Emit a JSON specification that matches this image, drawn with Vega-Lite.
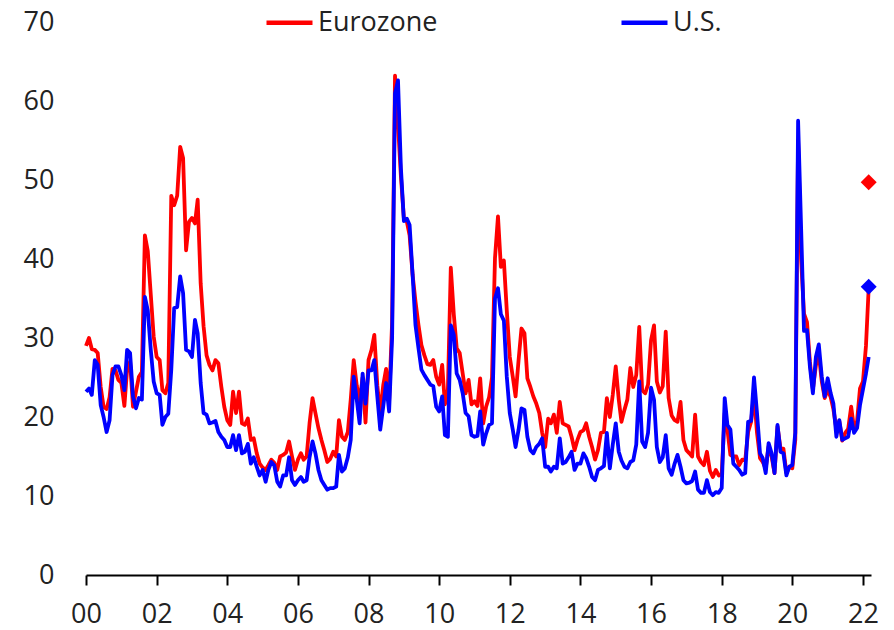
{
"$schema":"https://vega.github.io/schema/vega-lite/v6.json",
"width":785,"height":553,
"autosize":{"type":"none"},
"padding":{"left":86,"top":22,"right":23,"bottom":55},
"config":{"view":{"stroke":null},"font":"Open Sans",
 "axis":{"labelFont":"Open Sans","labelFontSize":27,"labelColor":"#222222","grid":false,"title":null},
 "legend":{"labelFont":"Open Sans","labelFontSize":27,"labelColor":"#222222"}},
"layer":[
{"data":{"values":[
{"d":"2000-01","Eurozone":29.0,"US":23.2},{"d":"2000-02","Eurozone":30.0,"US":23.6},{"d":"2000-03","Eurozone":28.6,"US":22.8},{"d":"2000-04","Eurozone":28.5,"US":27.2},{"d":"2000-05","Eurozone":28.1,"US":26.6},{"d":"2000-06","Eurozone":23.8,"US":21.5},{"d":"2000-07","Eurozone":21.3,"US":20.0},{"d":"2000-08","Eurozone":21.0,"US":18.1},{"d":"2000-09","Eurozone":22.5,"US":19.6},{"d":"2000-10","Eurozone":26.1,"US":25.3},{"d":"2000-11","Eurozone":25.9,"US":26.4},{"d":"2000-12","Eurozone":24.7,"US":26.4},
{"d":"2001-01","Eurozone":24.3,"US":25.3},{"d":"2001-02","Eurozone":21.4,"US":23.4},{"d":"2001-03","Eurozone":26.0,"US":28.5},{"d":"2001-04","Eurozone":27.0,"US":28.1},{"d":"2001-05","Eurozone":21.3,"US":22.6},{"d":"2001-06","Eurozone":23.2,"US":21.1},{"d":"2001-07","Eurozone":25.1,"US":22.4},{"d":"2001-08","Eurozone":25.7,"US":22.2},{"d":"2001-09","Eurozone":43.0,"US":35.2},{"d":"2001-10","Eurozone":41.0,"US":33.5},{"d":"2001-11","Eurozone":35.5,"US":28.5},{"d":"2001-12","Eurozone":30.2,"US":24.5},
{"d":"2002-01","Eurozone":27.6,"US":23.0},{"d":"2002-02","Eurozone":27.2,"US":22.8},{"d":"2002-03","Eurozone":23.4,"US":19.0},{"d":"2002-04","Eurozone":23.0,"US":20.0},{"d":"2002-05","Eurozone":24.3,"US":20.4},{"d":"2002-06","Eurozone":48.0,"US":26.0},{"d":"2002-07","Eurozone":46.8,"US":33.8},{"d":"2002-08","Eurozone":48.0,"US":33.9},{"d":"2002-09","Eurozone":54.2,"US":37.8},{"d":"2002-10","Eurozone":52.8,"US":35.7},{"d":"2002-11","Eurozone":41.1,"US":28.5},{"d":"2002-12","Eurozone":44.7,"US":28.3},
{"d":"2003-01","Eurozone":45.2,"US":27.6},{"d":"2003-02","Eurozone":44.5,"US":32.3},{"d":"2003-03","Eurozone":47.5,"US":30.6},{"d":"2003-04","Eurozone":36.9,"US":24.3},{"d":"2003-05","Eurozone":31.5,"US":20.5},{"d":"2003-06","Eurozone":27.8,"US":20.3},{"d":"2003-07","Eurozone":26.6,"US":19.2},{"d":"2003-08","Eurozone":25.9,"US":19.3},{"d":"2003-09","Eurozone":27.2,"US":19.5},{"d":"2003-10","Eurozone":26.8,"US":18.1},{"d":"2003-11","Eurozone":23.8,"US":17.5},{"d":"2003-12","Eurozone":21.3,"US":17.1},
{"d":"2004-01","Eurozone":19.6,"US":16.2},{"d":"2004-02","Eurozone":19.0,"US":16.2},{"d":"2004-03","Eurozone":23.2,"US":17.7},{"d":"2004-04","Eurozone":20.5,"US":15.8},{"d":"2004-05","Eurozone":23.2,"US":17.7},{"d":"2004-06","Eurozone":19.2,"US":15.4},{"d":"2004-07","Eurozone":19.0,"US":15.6},{"d":"2004-08","Eurozone":19.8,"US":16.6},{"d":"2004-09","Eurozone":17.1,"US":14.1},{"d":"2004-10","Eurozone":17.3,"US":14.9},{"d":"2004-11","Eurozone":15.4,"US":13.7},{"d":"2004-12","Eurozone":14.1,"US":12.6},
{"d":"2005-01","Eurozone":13.6,"US":13.3},{"d":"2005-02","Eurozone":13.3,"US":11.8},{"d":"2005-03","Eurozone":13.9,"US":13.3},{"d":"2005-04","Eurozone":14.6,"US":14.3},{"d":"2005-05","Eurozone":14.2,"US":13.9},{"d":"2005-06","Eurozone":13.3,"US":11.8},{"d":"2005-07","Eurozone":15.0,"US":11.2},{"d":"2005-08","Eurozone":15.2,"US":12.6},{"d":"2005-09","Eurozone":15.5,"US":12.6},{"d":"2005-10","Eurozone":16.9,"US":14.9},{"d":"2005-11","Eurozone":15.0,"US":12.0},{"d":"2005-12","Eurozone":13.3,"US":11.4},
{"d":"2006-01","Eurozone":14.6,"US":12.0},{"d":"2006-02","Eurozone":15.4,"US":12.4},{"d":"2006-03","Eurozone":14.6,"US":11.8},{"d":"2006-04","Eurozone":15.0,"US":12.0},{"d":"2006-05","Eurozone":19.2,"US":14.9},{"d":"2006-06","Eurozone":22.4,"US":16.9},{"d":"2006-07","Eurozone":20.5,"US":15.4},{"d":"2006-08","Eurozone":18.6,"US":13.3},{"d":"2006-09","Eurozone":17.1,"US":12.0},{"d":"2006-10","Eurozone":15.8,"US":11.4},{"d":"2006-11","Eurozone":14.3,"US":10.8},{"d":"2006-12","Eurozone":14.7,"US":11.0},
{"d":"2007-01","Eurozone":15.6,"US":11.0},{"d":"2007-02","Eurozone":15.0,"US":11.2},{"d":"2007-03","Eurozone":19.6,"US":15.2},{"d":"2007-04","Eurozone":17.5,"US":13.1},{"d":"2007-05","Eurozone":17.1,"US":13.5},{"d":"2007-06","Eurozone":18.1,"US":14.9},{"d":"2007-07","Eurozone":22.2,"US":17.1},{"d":"2007-08","Eurozone":27.2,"US":25.1},{"d":"2007-09","Eurozone":24.0,"US":22.2},{"d":"2007-10","Eurozone":22.0,"US":19.2},{"d":"2007-11","Eurozone":25.0,"US":25.5},{"d":"2007-12","Eurozone":19.3,"US":21.7},
{"d":"2008-01","Eurozone":27.2,"US":25.9},{"d":"2008-02","Eurozone":28.5,"US":25.9},{"d":"2008-03","Eurozone":30.4,"US":27.2},{"d":"2008-04","Eurozone":24.0,"US":22.6},{"d":"2008-05","Eurozone":20.5,"US":18.4},{"d":"2008-06","Eurozone":24.0,"US":21.3},{"d":"2008-07","Eurozone":26.1,"US":24.3},{"d":"2008-08","Eurozone":22.0,"US":20.7},{"d":"2008-09","Eurozone":32.0,"US":30.0},{"d":"2008-10","Eurozone":63.2,"US":61.0},{"d":"2008-11","Eurozone":57.0,"US":62.6},{"d":"2008-12","Eurozone":50.5,"US":51.5},
{"d":"2009-01","Eurozone":45.1,"US":44.8},{"d":"2009-02","Eurozone":44.7,"US":45.1},{"d":"2009-03","Eurozone":43.0,"US":44.3},{"d":"2009-04","Eurozone":38.0,"US":38.0},{"d":"2009-05","Eurozone":34.6,"US":31.6},{"d":"2009-06","Eurozone":31.6,"US":28.7},{"d":"2009-07","Eurozone":29.1,"US":26.0},{"d":"2009-08","Eurozone":27.8,"US":25.3},{"d":"2009-09","Eurozone":26.7,"US":24.7},{"d":"2009-10","Eurozone":26.6,"US":24.1},{"d":"2009-11","Eurozone":27.2,"US":23.9},{"d":"2009-12","Eurozone":25.1,"US":21.3},
{"d":"2010-01","Eurozone":24.1,"US":20.7},{"d":"2010-02","Eurozone":26.6,"US":22.6},{"d":"2010-03","Eurozone":21.6,"US":17.7},{"d":"2010-04","Eurozone":23.5,"US":17.5},{"d":"2010-05","Eurozone":38.9,"US":31.6},{"d":"2010-06","Eurozone":33.0,"US":30.4},{"d":"2010-07","Eurozone":28.7,"US":25.5},{"d":"2010-08","Eurozone":28.1,"US":24.7},{"d":"2010-09","Eurozone":25.5,"US":23.0},{"d":"2010-10","Eurozone":23.0,"US":20.5},{"d":"2010-11","Eurozone":24.7,"US":20.1},{"d":"2010-12","Eurozone":21.6,"US":17.7},
{"d":"2011-01","Eurozone":22.0,"US":17.5},{"d":"2011-02","Eurozone":21.4,"US":17.6},{"d":"2011-03","Eurozone":24.9,"US":20.7},{"d":"2011-04","Eurozone":19.2,"US":16.5},{"d":"2011-05","Eurozone":21.3,"US":17.9},{"d":"2011-06","Eurozone":22.5,"US":19.0},{"d":"2011-07","Eurozone":25.0,"US":19.2},{"d":"2011-08","Eurozone":40.1,"US":35.0},{"d":"2011-09","Eurozone":45.4,"US":36.3},{"d":"2011-10","Eurozone":39.0,"US":33.0},{"d":"2011-11","Eurozone":39.8,"US":32.2},{"d":"2011-12","Eurozone":33.5,"US":25.1},
{"d":"2012-01","Eurozone":27.6,"US":20.5},{"d":"2012-02","Eurozone":25.1,"US":18.4},{"d":"2012-03","Eurozone":22.6,"US":16.2},{"d":"2012-04","Eurozone":27.2,"US":18.4},{"d":"2012-05","Eurozone":31.2,"US":21.1},{"d":"2012-06","Eurozone":30.6,"US":20.9},{"d":"2012-07","Eurozone":24.9,"US":17.5},{"d":"2012-08","Eurozone":23.8,"US":15.8},{"d":"2012-09","Eurozone":22.6,"US":15.4},{"d":"2012-10","Eurozone":21.7,"US":16.2},{"d":"2012-11","Eurozone":20.5,"US":16.6},{"d":"2012-12","Eurozone":18.0,"US":17.3},
{"d":"2013-01","Eurozone":16.2,"US":13.7},{"d":"2013-02","Eurozone":19.8,"US":13.7},{"d":"2013-03","Eurozone":19.2,"US":13.1},{"d":"2013-04","Eurozone":20.3,"US":13.7},{"d":"2013-05","Eurozone":18.0,"US":13.5},{"d":"2013-06","Eurozone":21.9,"US":17.3},{"d":"2013-07","Eurozone":19.2,"US":14.1},{"d":"2013-08","Eurozone":19.0,"US":14.3},{"d":"2013-09","Eurozone":18.8,"US":14.9},{"d":"2013-10","Eurozone":17.5,"US":15.6},{"d":"2013-11","Eurozone":15.8,"US":13.3},{"d":"2013-12","Eurozone":17.1,"US":14.1},
{"d":"2014-01","Eurozone":18.1,"US":14.1},{"d":"2014-02","Eurozone":18.3,"US":15.4},{"d":"2014-03","Eurozone":19.2,"US":14.8},{"d":"2014-04","Eurozone":17.5,"US":13.7},{"d":"2014-05","Eurozone":16.2,"US":12.4},{"d":"2014-06","Eurozone":14.6,"US":12.0},{"d":"2014-07","Eurozone":15.8,"US":13.3},{"d":"2014-08","Eurozone":18.0,"US":13.5},{"d":"2014-09","Eurozone":18.1,"US":13.8},{"d":"2014-10","Eurozone":22.4,"US":18.0},{"d":"2014-11","Eurozone":20.0,"US":13.5},{"d":"2014-12","Eurozone":22.8,"US":16.5},
{"d":"2015-01","Eurozone":26.4,"US":19.2},{"d":"2015-02","Eurozone":22.2,"US":15.6},{"d":"2015-03","Eurozone":19.4,"US":14.5},{"d":"2015-04","Eurozone":20.9,"US":13.7},{"d":"2015-05","Eurozone":22.2,"US":13.5},{"d":"2015-06","Eurozone":26.2,"US":14.3},{"d":"2015-07","Eurozone":23.8,"US":14.5},{"d":"2015-08","Eurozone":25.3,"US":16.5},{"d":"2015-09","Eurozone":31.4,"US":24.5},{"d":"2015-10","Eurozone":23.4,"US":16.9},{"d":"2015-11","Eurozone":23.0,"US":16.2},{"d":"2015-12","Eurozone":24.1,"US":18.0},
{"d":"2016-01","Eurozone":29.7,"US":23.7},{"d":"2016-02","Eurozone":31.6,"US":22.2},{"d":"2016-03","Eurozone":24.5,"US":16.2},{"d":"2016-04","Eurozone":23.1,"US":14.3},{"d":"2016-05","Eurozone":23.9,"US":14.9},{"d":"2016-06","Eurozone":30.8,"US":17.7},{"d":"2016-07","Eurozone":22.4,"US":13.5},{"d":"2016-08","Eurozone":20.2,"US":12.7},{"d":"2016-09","Eurozone":19.6,"US":14.1},{"d":"2016-10","Eurozone":19.4,"US":15.2},{"d":"2016-11","Eurozone":21.9,"US":13.7},{"d":"2016-12","Eurozone":17.1,"US":12.0},
{"d":"2017-01","Eurozone":15.8,"US":11.6},{"d":"2017-02","Eurozone":15.4,"US":11.7},{"d":"2017-03","Eurozone":15.0,"US":11.9},{"d":"2017-04","Eurozone":20.3,"US":13.1},{"d":"2017-05","Eurozone":15.0,"US":10.8},{"d":"2017-06","Eurozone":14.3,"US":10.4},{"d":"2017-07","Eurozone":13.9,"US":10.4},{"d":"2017-08","Eurozone":15.6,"US":12.0},{"d":"2017-09","Eurozone":13.2,"US":10.5},{"d":"2017-10","Eurozone":12.4,"US":10.1},{"d":"2017-11","Eurozone":13.3,"US":10.5},{"d":"2017-12","Eurozone":12.6,"US":10.4},
{"d":"2018-01","Eurozone":12.8,"US":11.0},{"d":"2018-02","Eurozone":20.5,"US":22.4},{"d":"2018-03","Eurozone":18.4,"US":19.0},{"d":"2018-04","Eurozone":15.2,"US":18.4},{"d":"2018-05","Eurozone":15.0,"US":14.1},{"d":"2018-06","Eurozone":15.0,"US":13.7},{"d":"2018-07","Eurozone":13.9,"US":13.3},{"d":"2018-08","Eurozone":14.6,"US":12.7},{"d":"2018-09","Eurozone":14.5,"US":12.9},{"d":"2018-10","Eurozone":18.1,"US":19.4},{"d":"2018-11","Eurozone":19.4,"US":19.5},{"d":"2018-12","Eurozone":23.0,"US":25.0},
{"d":"2019-01","Eurozone":18.0,"US":20.5},{"d":"2019-02","Eurozone":14.8,"US":15.4},{"d":"2019-03","Eurozone":14.3,"US":14.8},{"d":"2019-04","Eurozone":13.5,"US":12.9},{"d":"2019-05","Eurozone":16.3,"US":16.7},{"d":"2019-06","Eurozone":15.0,"US":15.4},{"d":"2019-07","Eurozone":12.9,"US":12.9},{"d":"2019-08","Eurozone":18.8,"US":19.0},{"d":"2019-09","Eurozone":16.0,"US":15.6},{"d":"2019-10","Eurozone":16.0,"US":15.4},{"d":"2019-11","Eurozone":12.9,"US":12.6},{"d":"2019-12","Eurozone":13.7,"US":13.7},
{"d":"2020-01","Eurozone":13.5,"US":13.9},{"d":"2020-02","Eurozone":17.1,"US":18.0},{"d":"2020-03","Eurozone":55.0,"US":57.5},{"d":"2020-04","Eurozone":40.0,"US":44.0},{"d":"2020-05","Eurozone":33.1,"US":30.9},{"d":"2020-06","Eurozone":32.0,"US":31.0},{"d":"2020-07","Eurozone":27.0,"US":26.4},{"d":"2020-08","Eurozone":23.5,"US":23.0},{"d":"2020-09","Eurozone":26.5,"US":27.6},{"d":"2020-10","Eurozone":28.0,"US":29.2},{"d":"2020-11","Eurozone":24.5,"US":25.1},{"d":"2020-12","Eurozone":22.4,"US":22.6},
{"d":"2021-01","Eurozone":23.5,"US":24.9},{"d":"2021-02","Eurozone":22.5,"US":23.0},{"d":"2021-03","Eurozone":21.0,"US":21.7},{"d":"2021-04","Eurozone":18.5,"US":17.5},{"d":"2021-05","Eurozone":19.5,"US":19.6},{"d":"2021-06","Eurozone":17.0,"US":17.1},{"d":"2021-07","Eurozone":18.0,"US":17.3},{"d":"2021-08","Eurozone":18.5,"US":17.5},{"d":"2021-09","Eurozone":21.3,"US":19.8},{"d":"2021-10","Eurozone":18.5,"US":18.0},{"d":"2021-11","Eurozone":19.5,"US":18.6},{"d":"2021-12","Eurozone":23.6,"US":21.5},
{"d":"2022-01","Eurozone":24.5,"US":23.5},{"d":"2022-02","Eurozone":29.0,"US":25.5},{"d":"2022-03","Eurozone":36.3,"US":27.6}
]},
"transform":[{"fold":["Eurozone","US"],"as":["s","v"]}],
"mark":{"type":"line","strokeWidth":3.8,"strokeJoin":"round"},
"encoding":{
 "x":{"field":"d","type":"temporal","scale":{"type":"utc","domain":[{"year":2000,"month":1,"date":1,"utc":true},{"year":2022,"month":3,"date":25,"utc":true}]},
  "axis":{"values":[{"year":2000,"month":1,"date":1,"utc":true},{"year":2002,"month":1,"date":1,"utc":true},{"year":2004,"month":1,"date":1,"utc":true},{"year":2006,"month":1,"date":1,"utc":true},{"year":2008,"month":1,"date":1,"utc":true},{"year":2010,"month":1,"date":1,"utc":true},{"year":2012,"month":1,"date":1,"utc":true},{"year":2014,"month":1,"date":1,"utc":true},{"year":2016,"month":1,"date":1,"utc":true},{"year":2018,"month":1,"date":1,"utc":true},{"year":2020,"month":1,"date":1,"utc":true},{"year":2022,"month":1,"date":1,"utc":true}],
   "labelExpr":"utcFormat(datum.value,'%y')","domain":true,"domainColor":"#000000","domainWidth":2,"ticks":true,"tickSize":10,"tickWidth":2,"tickColor":"#000000","labelPadding":16,"labelFlush":false,"labelOverlap":false,"title":null}},
 "y":{"field":"v","type":"quantitative","scale":{"domain":[0,70],"nice":false},
  "axis":{"values":[0,10,20,30,40,50,60,70],"domain":false,"ticks":false,"tickSize":0,"labelPadding":32,"title":null}},
 "color":{"field":"s","type":"nominal","scale":{"domain":["Eurozone","US"],"range":["#ff0000","#0000ff"]},
  "legend":{"orient":"none","legendX":178,"legendY":-25,"direction":"horizontal","symbolType":"stroke","symbolSize":2116,"symbolStrokeWidth":4.5,"labelOffset":3,"columnPadding":174,"title":null,"padding":0,"labelExpr":"datum.label == 'US' ? 'U.S.' : datum.label"}}
}},
{"data":{"values":[{"d":"2022-03","s":"Eurozone","v":49.7},{"d":"2022-03","s":"US","v":36.5}]},
"mark":{"type":"point","shape":"diamond","filled":true,"size":256,"opacity":1},
"encoding":{
 "x":{"field":"d","type":"temporal"},
 "y":{"field":"v","type":"quantitative"},
 "color":{"field":"s","type":"nominal","scale":{"domain":["Eurozone","US"],"range":["#ff0000","#0000ff"]},"legend":null}
}}
],
"resolve":{"scale":{"color":"independent"},"legend":{"color":"independent"}}
}
